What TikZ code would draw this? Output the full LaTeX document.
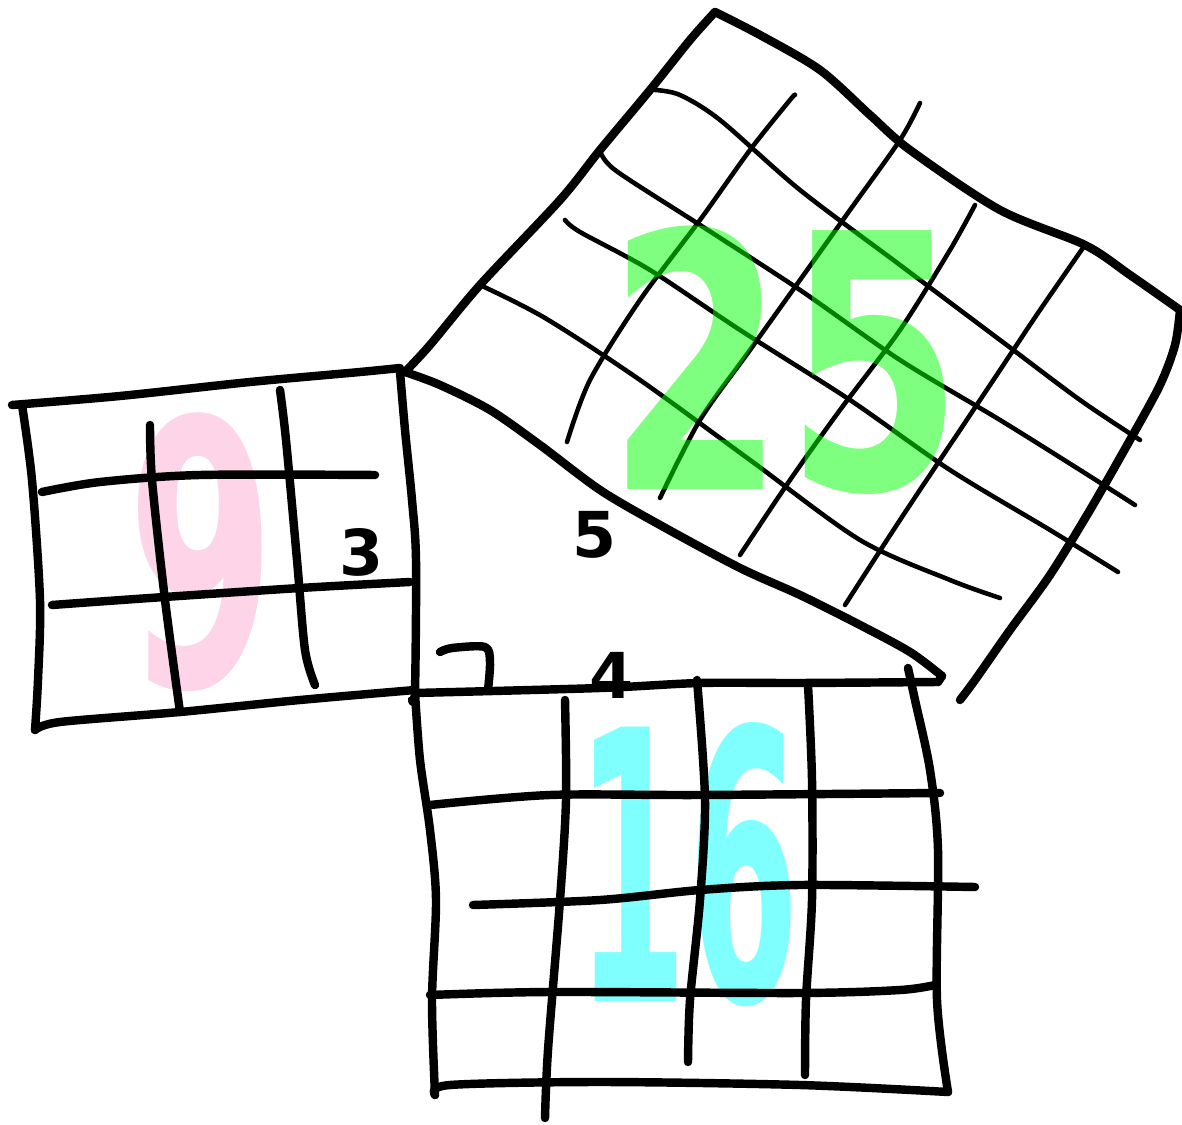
\documentclass[tikz,border=0pt]{standalone}
\usepackage{graphicx}
\usepackage{fontspec}
\setmainfont{DejaVu Sans}
\definecolor{ninepink}{RGB}{253,212,232}
\definecolor{sixteencyan}{RGB}{128,255,255}
\tikzset{
  pen/.style={line width=2.4pt, line cap=round, line join=round},
  thinpen/.style={line width=1.3pt, line cap=round, line join=round},
  bignum/.style={font=\fontsize{101}{101}\selectfont\bfseries, inner sep=0pt},
  smallnum/.style={font=\fontsize{18}{18}\selectfont\bfseries, inner sep=0pt},
}
\begin{document}
\begin{tikzpicture}[x=0.01cm,y=-0.01cm]
\useasboundingbox (0,0) rectangle (1182,1125);
\node[bignum, text=ninepink] (nine) at (202,552) {\scalebox{0.6}[1.04]{9}};
\node[bignum, text=sixteencyan] (sixteen) at (688,865) {\scalebox{0.45}[1.06]{16}};
\draw[pen] plot[smooth] coordinates {(12,405) (120,396) (250,382) (360,372) (400,368)};
\draw[pen] plot[smooth] coordinates {(22,405) (32,480) (40,600) (38,680) (35,730)};
\draw[pen] plot[smooth] coordinates {(35,730) (60,722) (180,712) (300,700) (415,690)};
\draw[pen] plot[smooth] coordinates {(400,372) (405,430) (412,500) (416,560) (415,690) (412,700)};
\draw[pen] plot[smooth] coordinates {(42,492) (100,482) (200,475) (375,475)};
\draw[pen] plot[smooth] coordinates {(52,605) (150,598) (300,588) (410,582)};
\draw[pen] plot[smooth] coordinates {(150,425) (152,480) (165,600) (180,712)};
\draw[pen] plot[smooth] coordinates {(280,390) (286,440) (297,560) (305,650) (315,685)};
\draw[pen] plot[smooth] coordinates {(405,372) (440,385) (490,410) (540,445) (600,490) (660,525) (740,568) (800,595) (860,625) (910,652) (942,676)};
\draw[pen] plot[smooth] coordinates {(938,682) (800,683) (700,683) (600,688) (415,693)};
\draw[pen] (942,676) -- (938,682);
\draw[pen] plot[smooth] coordinates {(415,693) (420,760) (430,830) (436,900) (432,1000) (435,1095)};
\draw[pen] plot[smooth] coordinates {(435,1095) (450,1085) (600,1082) (800,1085) (948,1092)};
\draw[pen] plot[smooth] coordinates {(908,668) (915,700) (930,770) (938,850) (937,1000) (948,1092)};
\draw[pen] plot[smooth] coordinates {(430,805) (550,795) (700,795) (940,793)};
\draw[pen] plot[smooth] coordinates {(473,905) (600,900) (700,890) (800,885) (975,887)};
\draw[pen] plot[smooth] coordinates {(430,995) (550,992) (800,993) (900,990) (935,985)};
\draw[pen] plot[smooth] coordinates {(565,700) (566,800) (560,900) (548,1050) (545,1118)};
\draw[pen] plot[smooth] coordinates {(697,680) (705,800) (700,900) (690,1000) (688,1062)};
\draw[pen] plot[smooth] coordinates {(808,685) (812,780) (812,900) (806,1000) (805,1075)};
\draw[pen] plot[smooth] coordinates {(440,652) (452,648) (485,647) (490,662) (488,690)};
\draw[pen] plot[smooth] coordinates {(405,372) (430,345) (480,285) (560,200) (600,150) (650,90) (690,40) (715,12)};
\draw[pen] plot[smooth] coordinates {(715,12) (760,35) (820,70) (870,115) (910,150) (1000,210) (1085,245) (1130,275) (1180,310)};
\draw[pen] plot[smooth] coordinates {(1180,310) (1175,345) (1160,385) (1130,440) (1090,510) (1050,575) (1010,630) (975,680) (960,700)};
\draw[thinpen] plot[smooth] coordinates {(567,442) (590,380) (640,300) (700,220) (750,150) (790,100) (795,95)};
\draw[thinpen] plot[smooth] coordinates {(660,498) (700,420) (750,350) (800,280) (850,210) (900,140) (920,103)};
\draw[thinpen] plot[smooth] coordinates {(740,555) (790,480) (840,410) (900,330) (950,250) (975,205)};
\draw[thinpen] plot[smooth] coordinates {(845,605) (900,520) (960,430) (1000,370) (1040,310) (1085,245)};
\draw[thinpen] plot[smooth] coordinates {(480,285) (545,318) (640,380) (750,460) (860,540) (950,580) (1000,598)};
\draw[thinpen] plot[smooth] coordinates {(565,220) (580,232) (650,270) (740,330) (850,400) (950,470) (1050,530) (1118,572)};
\draw[thinpen] plot[smooth] coordinates {(600,150) (615,170) (700,225) (800,290) (900,360) (1000,420) (1080,470) (1135,505)};
\draw[thinpen] plot[smooth] coordinates {(655,90) (680,95) (720,120) (800,190) (900,265) (1000,340) (1080,400) (1140,440)};
\node[smallnum] (three) at (362,552) {3};
\node[smallnum] (five) at (595,535) {5};
\node[smallnum] (four) at (612,675) {4};
\node[bignum, text=green, text opacity=0.5] (twentyfive) at (785,360) {\scalebox{0.72}[1.0]{25}};
\end{tikzpicture}
\end{document}
